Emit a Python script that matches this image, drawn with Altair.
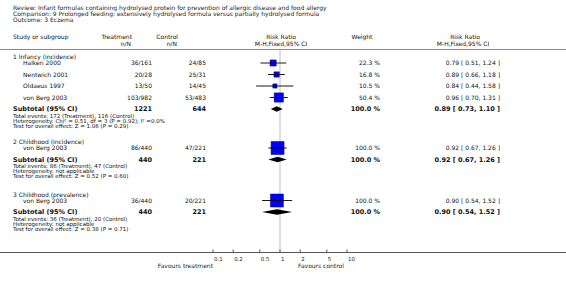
import altair as alt
import pandas as pd

# ---------------- data ----------------
title_lines = [
    "Review:  Infant formulas containing hydrolysed protein for prevention of allergic disease and food allergy",
    "Comparison:  9 Prolonged feeding: extensively hydrolysed formula versus partially hydrolysed formula",
    "Outcome:  3 Eczema",
]
groups = ["1 Infancy (incidence)", "2 Childhood (incidence)", "3 Childhood (prevalence)"]
study_names = ["Halken 2000", "Nentwich 2001", "Oldaeus 1997", "von Berg 2003", "von Berg 2003", "von Berg 2003"]
study_group = [0, 0, 0, 0, 1, 2]
treat_events = [36, 20, 13, 103, 86, 36]
treat_total = [161, 28, 50, 982, 440, 440]
ctrl_events = [24, 25, 14, 53, 47, 20]
ctrl_total = [85, 31, 45, 483, 221, 221]
weights = [22.3, 16.8, 10.5, 50.4, 100.0, 100.0]
rr = [0.79, 0.89, 0.84, 0.96, 0.92, 0.90]
rr_lo = [0.51, 0.66, 0.44, 0.70, 0.67, 0.54]
rr_hi = [1.24, 1.18, 1.58, 1.31, 1.26, 1.52]

sub_treat = [1221, 440, 440]
sub_ctrl = [644, 221, 221]
sub_weight = [100.0, 100.0, 100.0]
sub_rr = [0.89, 0.92, 0.90]
sub_lo = [0.73, 0.67, 0.54]
sub_hi = [1.10, 1.26, 1.52]
total_events = [
    "Total events: 172 (Treatment), 116 (Control)",
    "Total events: 86 (Treatment), 47 (Control)",
    "Total events: 36 (Treatment), 20 (Control)",
]
heterogeneity = [
    "Heterogeneity: Chi\u00b2 = 0.51, df = 3 (P = 0.92); I\u00b2 =0.0%",
    "Heterogeneity: not applicable",
    "Heterogeneity: not applicable",
]
overall_effect = [
    "Test for overall effect: Z = 1.06 (P = 0.29)",
    "Test for overall effect: Z = 0.52 (P = 0.60)",
    "Test for overall effect: Z = 0.38 (P = 0.71)",
]
tick_values = [0.1, 0.2, 0.5, 1, 2, 5, 10]

# ---------------- layout ----------------
W, H = 566, 285
FONT = "DejaVu Sans"
FS = 6.0          # regular text
FS_NOTE = 5.5     # subgroup notes
FS_BOLD = 6.5     # subtotal rows
group_top = [57, 142, 194.5]
HEAD_TO_STUDY = 6
STUDY_STEP = 11.5
SUB_TO_NOTE = 6.5
NOTE_STEP = 5.2
AXIS_Y = 252.5
X_01, X_10 = 213, 347          # pixel of 0.1 and 10
PPD = (X_10 - X_01) / 2.0      # pixels per decade

xscale = alt.Scale(type="log", nice=False,
                   domain=[10 ** (-1 - X_01 / PPD), 10 ** (1 + (W - X_10) / PPD)])
yscale = alt.Scale(domain=[0, H], range=[0, H], nice=False, zero=False)

rows = []
study_rows = []
diamond_rows = []
for g, gname in enumerate(groups):
    y = group_top[g]
    rows.append(dict(kind="header", label=gname, y=y))
    y += HEAD_TO_STUDY
    first = True
    for i, sg in enumerate(study_group):
        if sg != g:
            continue
        if not first:
            y += STUDY_STEP
        first = False
        rows.append(dict(kind="study", label=study_names[i], y=y,
                         treat=f"{treat_events[i]}/{treat_total[i]}",
                         ctrl=f"{ctrl_events[i]}/{ctrl_total[i]}",
                         weight=f"{weights[i]:.1f} %",
                         rrtxt=f"{rr[i]:.2f} [ {rr_lo[i]:.2f}, {rr_hi[i]:.2f} ]"))
        study_rows.append(dict(y=y, rr=rr[i], lo=rr_lo[i], hi=rr_hi[i], w=weights[i]))
    y += STUDY_STEP
    rows.append(dict(kind="subtotal", label="Subtotal (95% CI)", y=y,
                     treat=f"{sub_treat[g]}", ctrl=f"{sub_ctrl[g]}",
                     weight=f"{sub_weight[g]:.1f} %",
                     rrtxt=f"{sub_rr[g]:.2f} [ {sub_lo[g]:.2f}, {sub_hi[g]:.2f} ]"))
    dh = 2.8
    diamond_rows += [
        dict(g=g, x=sub_lo[g], yt=y, yb=y),
        dict(g=g, x=sub_rr[g], yt=y - dh, yb=y + dh),
        dict(g=g, x=sub_hi[g], yt=y, yb=y),
    ]
    y += SUB_TO_NOTE
    for note in (total_events[g], heterogeneity[g], overall_effect[g]):
        rows.append(dict(kind="note", label=note, y=y))
        y += NOTE_STEP

rows_df = pd.DataFrame(rows).fillna("")
studies_df = pd.DataFrame(study_rows)
diamond_df = pd.DataFrame(diamond_rows)
ticks_df = pd.DataFrame({"v": tick_values, "lab": [f"{v:g}" for v in tick_values]})
one_df = pd.DataFrame({"a": [0]})

Y = alt.Y("y:Q", scale=yscale, axis=None)


def txt(kind, field, x, align, size, bold=False, color="#111"):
    return alt.Chart(rows_df).transform_filter(
        alt.datum.kind == kind
    ).mark_text(
        align=align, baseline="middle", font=FONT, fontSize=size,
        fontWeight="bold" if bold else "normal", color=color
    ).encode(x=alt.value(x), y=Y, text=f"{field}:N")


def fixed(text, x, y, align="left", size=FS, color="#111"):
    return alt.Chart(one_df).mark_text(
        align=align, baseline="middle", font=FONT, fontSize=size, color=color
    ).encode(x=alt.value(x), y=alt.value(y), text=alt.value(text))


layers = []

# title block
for k, line in enumerate(title_lines):
    layers.append(fixed(line, 13, 8 + 6 * k, size=6.0, color="#222"))

# column headers
layers += [
    fixed("Study or subgroup", 13, 37),
    fixed("Treatment", 132, 37, "right"),
    fixed("n/N", 131, 43.5, "right"),
    fixed("Control", 178, 37, "right"),
    fixed("n/N", 177, 43.5, "right"),
    fixed("Risk Ratio", 281, 37, "center"),
    fixed("M-H,Fixed,95% CI", 281, 43.5, "center"),
    fixed("Weight", 362, 37, "center"),
    fixed("Risk Ratio", 465, 37, "center"),
    fixed("M-H,Fixed,95% CI", 463, 43.5, "center"),
]

# header separator line
layers.append(alt.Chart(one_df).mark_rule(color="#8a8a8a", strokeWidth=1.2).encode(
    x=alt.value(0), x2=alt.value(W), y=alt.value(49.5)))

# reference line at RR = 1
layers.append(alt.Chart(pd.DataFrame({"v": [1]})).mark_rule(color="#d4d4d4", strokeWidth=1.5).encode(
    x=alt.X("v:Q", scale=xscale, axis=None), y=alt.value(50), y2=alt.value(AXIS_Y)))

# bottom axis line
layers.append(alt.Chart(one_df).mark_rule(color="#555", strokeWidth=1).encode(
    x=alt.value(0), x2=alt.value(W), y=alt.value(AXIS_Y)))

# ticks and labels
layers.append(alt.Chart(ticks_df).mark_rule(color="#555", strokeWidth=1).encode(
    x=alt.X("v:Q", scale=xscale, axis=None), y=alt.value(AXIS_Y - 3), y2=alt.value(AXIS_Y)))
layers.append(alt.Chart(ticks_df).mark_text(
    align="left", baseline="middle", font=FONT, fontSize=5.4, color="#222", dx=1
).encode(x=alt.X("v:Q", scale=xscale, axis=None), y=alt.value(AXIS_Y + 6), text="lab:N"))
layers.append(fixed("Favours treatment", 213, AXIS_Y + 13, "right", size=6.0, color="#222"))
layers.append(fixed("Favours control", 298, AXIS_Y + 13, "left", size=6.0, color="#222"))

# text columns
layers += [
    txt("header", "label", 13, "left", FS),
    txt("study", "label", 23, "left", FS),
    txt("subtotal", "label", 13, "left", FS_BOLD, bold=True),
    txt("note", "label", 13, "left", FS_NOTE),
    txt("study", "treat", 152, "right", FS),
    txt("subtotal", "treat", 152, "right", FS_BOLD, bold=True),
    txt("study", "ctrl", 206, "right", FS),
    txt("subtotal", "ctrl", 206, "right", FS_BOLD, bold=True),
    txt("study", "weight", 380, "right", FS),
    txt("subtotal", "weight", 380, "right", FS_BOLD, bold=True),
    txt("study", "rrtxt", 500, "right", FS),
    txt("subtotal", "rrtxt", 500, "right", FS_BOLD, bold=True),
]

# squares (area proportional to weight)
layers.append(alt.Chart(studies_df).mark_square(
    filled=True, color="#0000ff", stroke="#00007a", strokeWidth=0.5, opacity=1
).encode(
    x=alt.X("rr:Q", scale=xscale, axis=None), y=Y,
    size=alt.Size("w:Q", scale=alt.Scale(type="linear", domain=[0, 100], range=[0, 169]), legend=None),
))

# confidence intervals
layers.append(alt.Chart(studies_df).mark_rule(color="#000", strokeWidth=0.9).encode(
    x=alt.X("lo:Q", scale=xscale, axis=None), x2="hi:Q", y=Y))

# diamonds
layers.append(alt.Chart(diamond_df).mark_area(color="#000", orient="vertical").encode(
    x=alt.X("x:Q", scale=xscale, axis=None),
    y=alt.Y("yt:Q", scale=yscale, axis=None), y2="yb:Q",
    detail="g:N",
))

chart = alt.layer(*layers).properties(
    width=W, height=H, padding=0,
    autosize=alt.AutoSizeParams(type="none"),
    background="white",
).configure_view(stroke=None)

chart.save("out.html", embed_options={"renderer": "svg", "actions": False})
